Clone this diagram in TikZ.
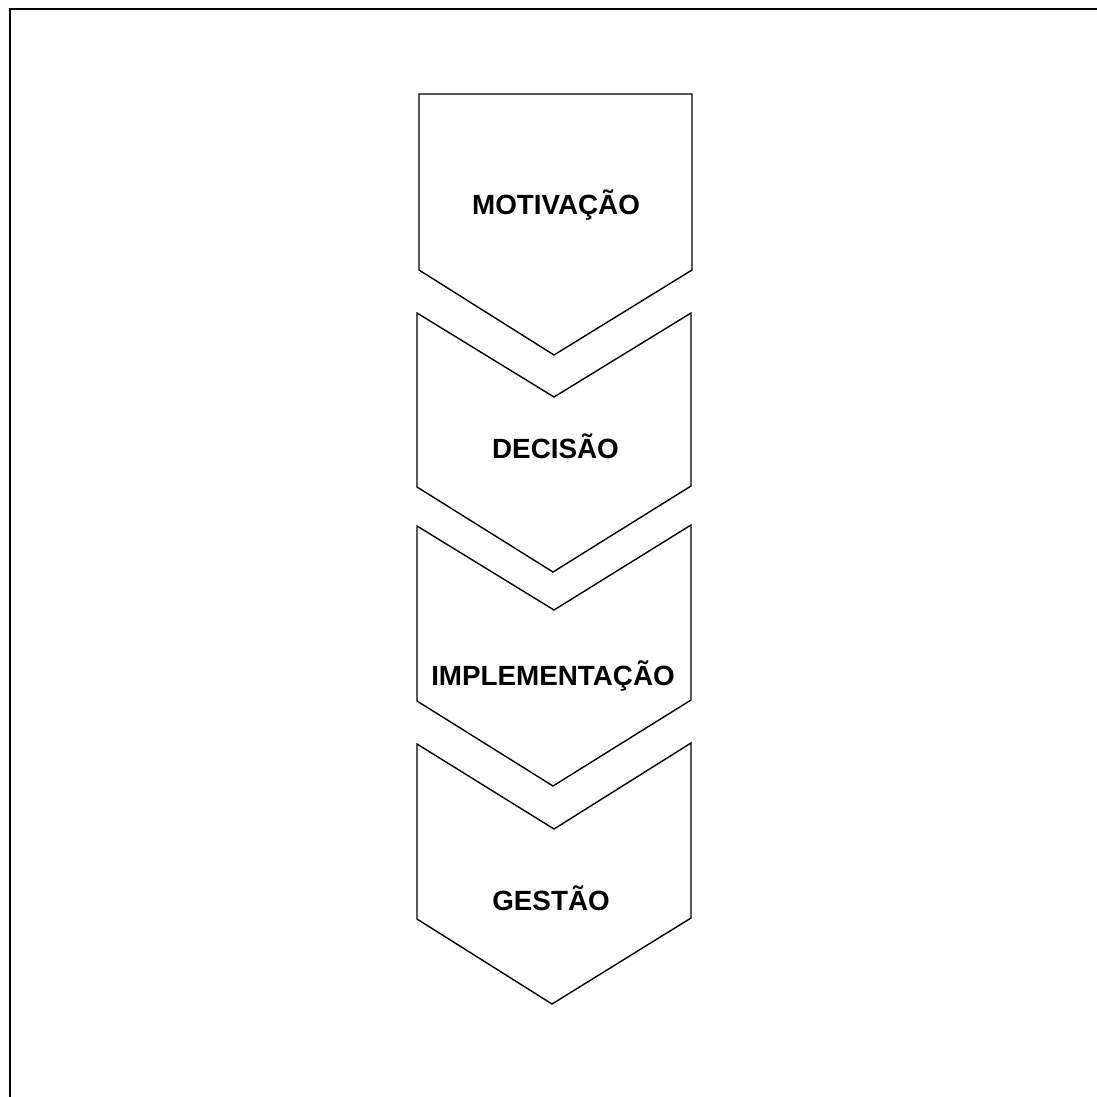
\documentclass[tikz,border=0pt]{standalone}
\usepackage{fontspec}
\setmainfont{Liberation Sans}
\begin{document}
\begin{tikzpicture}[x=1pt,y=-1pt,
  chev/.style={draw=black,line width=1.4pt,line join=miter,fill=white},
  lbl/.style={font=\bfseries\fontsize{27.8}{31}\selectfont,anchor=base,inner sep=0pt},
  frame/.style={draw=black,line width=2pt}]
\useasboundingbox (0,0) rectangle (1097,1097);
\draw[frame] (9.5,1100) -- (9.5,9.5) -- (1100,9.5);
% shape 1
\draw[chev] (419,94) -- (692,94) -- (692,270) -- (554,355) -- (419,270) -- cycle;
\node[lbl] (m) at (556,214) {MOTIVAÇÃO};
% shape 2
\draw[chev] (417,313) -- (554,397) -- (691,313) -- (691,486) -- (553,572) -- (417,487) -- cycle;
\node[lbl] (d) at (555.5,458) {DECISÃO};
% shape 3
\draw[chev] (417,526) -- (554,610) -- (691,525) -- (691,700) -- (553,786) -- (417,701) -- cycle;
\node[lbl] (i) at (553,685) {IMPLEMENTAÇÃO};
% shape 4
\draw[chev] (417,744) -- (554,829) -- (691,743) -- (691,918) -- (552,1004) -- (417,919) -- cycle;
\node[lbl] (g) at (551,910) {GESTÃO};
\end{tikzpicture}
\end{document}
